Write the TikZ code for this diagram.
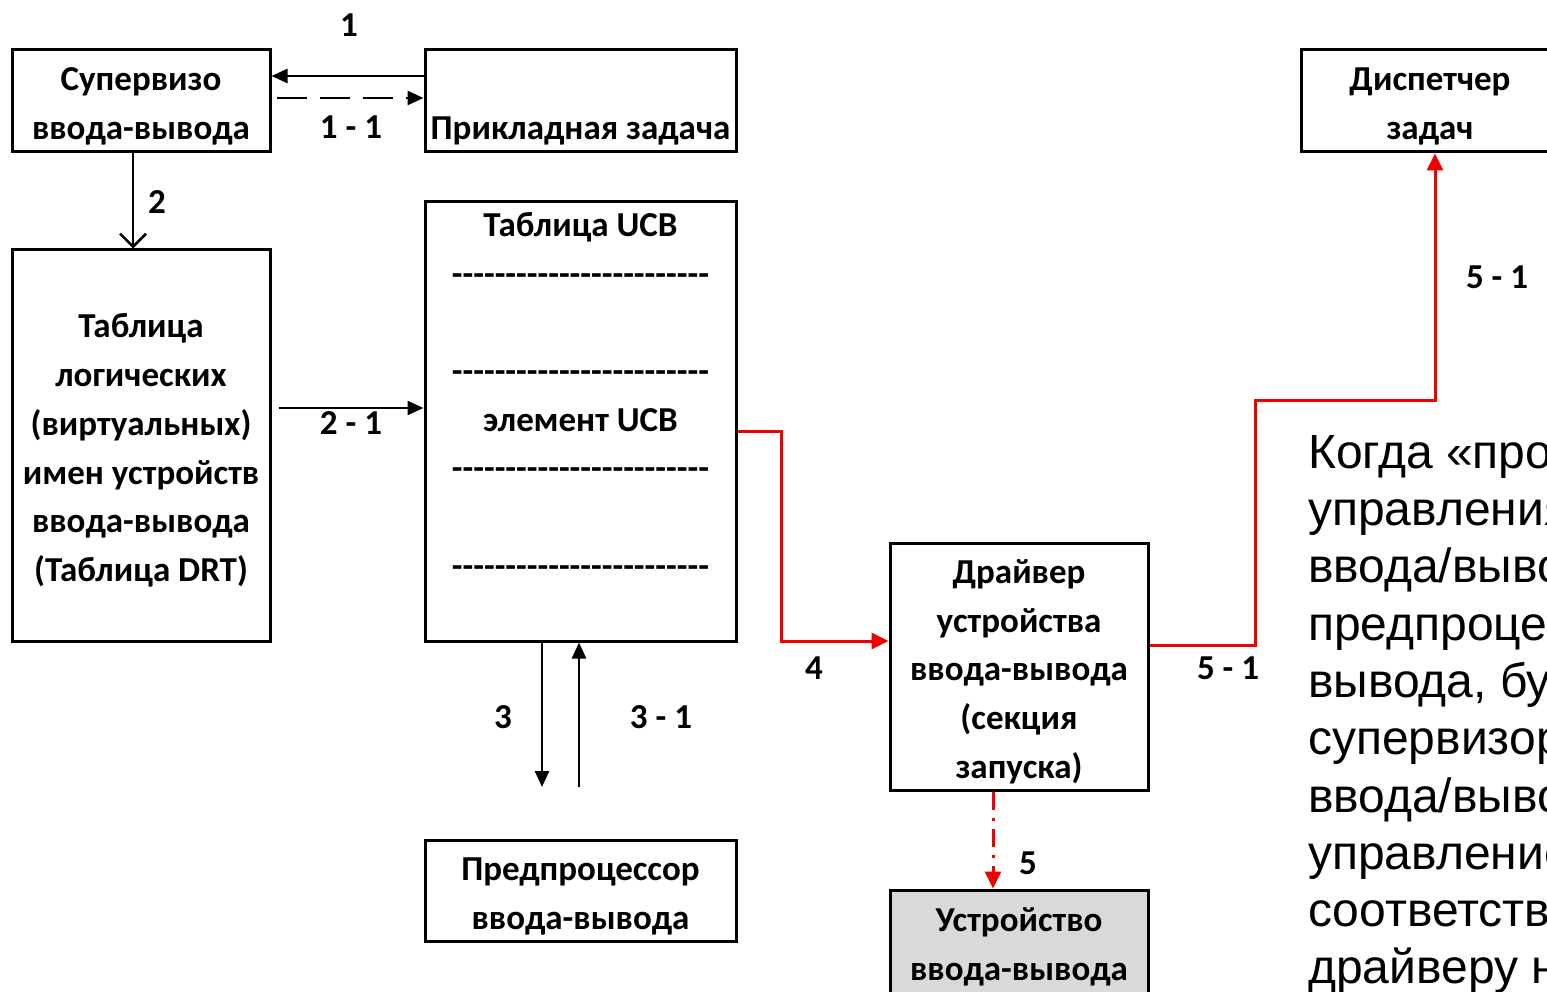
\documentclass[tikz,border=0pt]{standalone}
\usepackage{fontspec}
\setmainfont{Carlito}
\newfontfamily\notefont{Liberation Sans}
\usepackage{xcolor}
\definecolor{devgray}{RGB}{217,217,217}
\definecolor{flowred}{RGB}{240,0,0}
\usetikzlibrary{
  arrows.meta,
  positioning,
  calc
}
\tikzset{
  unitbox/.style={draw, line width=3pt, inner sep=0pt,
    align=center, font=\fontsize{35}{48.7}\selectfont\bfseries},
  steplbl/.style={inner sep=0pt, font=\fontsize{35}{42}\selectfont\bfseries},
  arr/.style={-{Triangle[length=16pt, width=14pt]}, line width=2.5pt},
  openarr/.style={-{Straight Barb[length=13pt, width=26pt, line width=2.5pt]}, line width=2.5pt},
  redarr/.style={-{Triangle[length=17pt, width=16pt]}, line width=3pt, flowred},
}
\newcommand{\tline}{\rule{0pt}{34pt}}
\newcommand{\hyfour}{-{}-{}-{}-{}}
\newcommand{\ucbrule}{\hyfour\hyfour\hyfour\hyfour\hyfour\hyfour}

\begin{document}
\begin{tikzpicture}[x=1pt, y=-1pt]
  \useasboundingbox (0,0) rectangle (1547,992);

  % Top row
  \node[unitbox, minimum width=258, minimum height=102] (sup) at (141,101)
    {\tline Супервизо\\ввода-вывода};
  \node[unitbox, minimum width=311, minimum height=102] (app) at (580.5,101)
    {\tline\\Прикладная задача};
  \node[unitbox, minimum width=258, minimum height=102] (disp) at (1430,101)
    {\tline Диспетчер\\задач};

  % Tables
  \node[unitbox, minimum width=258, minimum height=391] (drt) at (141,445.5)
    {\tline Таблица\\логических\\(виртуальных)\\имен устройств\\ввода-вывода\\(Таблица DRT)};
  \node[unitbox, minimum width=311, minimum height=439] (ucb) at (580.5,421.5)
    {\tline Таблица UCB\\\ucbrule\\\mbox{}\\\ucbrule\\элемент UCB\\\ucbrule\\\mbox{}\\\ucbrule\\\strut};

  % Driver, device, preprocessor
  \node[unitbox, minimum width=258, minimum height=247] (drv) at (1019,666.5)
    {\tline Драйвер\\устройства\\ввода-вывода\\(секция\\запуска)};
  \node[unitbox, fill=devgray, minimum width=258, minimum height=103] (dev) at (1019,941.5)
    {\tline Устройство\\ввода-вывода};
  \node[unitbox, minimum width=311, minimum height=101] (pre) at (580.5,890.5)
    {\tline Предпроцессор\\ввода-вывода};

  % Free ends of 3 and 3 - 1
  \coordinate (end3) at (542,787);
  \coordinate (end31) at (579,787);

  % Step labels
  \node[steplbl] (l1) at (349,25) {1};
  \node[steplbl] (l11) at (351,127) {1 - 1};
  \node[steplbl] (l2) at (157,202) {2};
  \node[steplbl] (l21) at (351,423) {2 - 1};
  \node[steplbl] (l3) at (503,717) {3};
  \node[steplbl] (l31) at (661,717) {3 - 1};
  \node[steplbl] (l4) at (814,668) {4};
  \node[steplbl] (l5) at (1028,863) {5};
  \node[steplbl] (l51a) at (1228,668) {5 - 1};
  \node[steplbl] (l51b) at (1497,277) {5 - 1};

  % Note (cut by the right edge, as in the source)
  \node[anchor=north west, inner sep=0pt, align=left,
        font=\notefont\fontsize{48}{57.3}\selectfont] (note) at (1308,435)
    {Когда «про\\управления\\ввода/выво\\предпроце\\вывода, бу\\супервизор\\ввода/выво\\управление\\соответств\\драйверу н};

  % Arrows
  \draw[arr] (app.west |- 0,76) -- (sup.east |- 0,76);
  \draw[arr, dash pattern=on 30pt off 13pt, shorten <=5pt] (sup.east |- 0,98) -- (app.west |- 0,98);
  \draw[openarr] ([xshift=-8]sup.south) -- ([xshift=-8]drt.north);
  \draw[arr, shorten <=7pt] (drt.east |- 0,408) -- (ucb.west |- 0,408);
  \draw[arr] (ucb.south -| end3) -- (end3);
  \draw[arr] (end31) -- (ucb.south -| end31);
  \draw[redarr] (ucb.east |- 0,431) -| (781,641) -- (drv.west |- 0,641);
  \draw[redarr, dash pattern=on 18pt off 8pt on 3pt off 8pt] ([xshift=-26]drv.south) -- ([xshift=-26]dev.north);
  \draw[redarr] (drv.east |- 0,645) -| (1255,400) -| (disp.south -| 1435,0);
\end{tikzpicture}
\end{document}
